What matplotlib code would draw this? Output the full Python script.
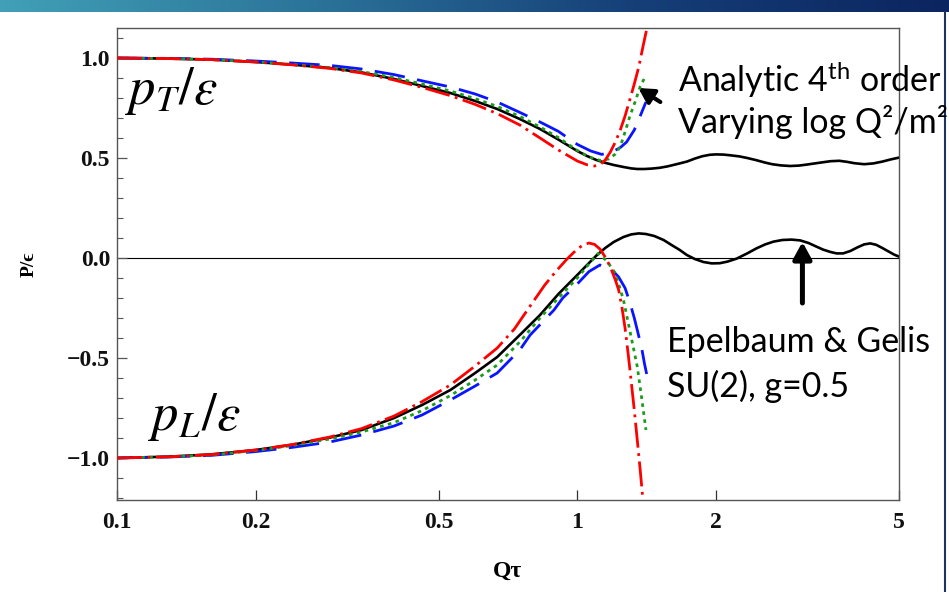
import numpy as np
import matplotlib
matplotlib.use("Agg")
import matplotlib.pyplot as plt
from matplotlib.lines import Line2D
from matplotlib.colors import LinearSegmentedColormap
from matplotlib.ticker import FixedLocator, NullLocator

# ---------------- data ----------------
# Epelbaum & Gelis, SU(2) g=0.5 (solid black)
eg_x_T = [0.10, 0.13, 0.16, 0.20, 0.24, 0.29, 0.34, 0.40, 0.46, 0.53, 0.60, 0.67,
          0.75, 0.83, 0.91, 1.00, 1.05, 1.10, 1.15, 1.20, 1.26, 1.31, 1.35, 1.40,
          1.45, 1.51, 1.57, 1.65, 1.73, 1.80, 1.87, 1.94, 2.00, 2.08, 2.16, 2.25,
          2.34, 2.45, 2.55, 2.65, 2.77, 2.90, 3.03, 3.15, 3.26, 3.40, 3.55, 3.71,
          3.85, 4.00, 4.20, 4.40, 4.60, 4.80, 5.00]
eg_pT = [1.000, 0.997, 0.992, 0.980, 0.967, 0.950, 0.928, 0.895, 0.860, 0.825, 0.785, 0.745,
         0.695, 0.645, 0.592, 0.535, 0.510, 0.490, 0.476, 0.465, 0.455, 0.448, 0.445, 0.445,
         0.447, 0.451, 0.458, 0.470, 0.482, 0.497, 0.509, 0.516, 0.518, 0.517, 0.513, 0.508,
         0.500, 0.489, 0.478, 0.469, 0.463, 0.460, 0.462, 0.467, 0.472, 0.478, 0.484, 0.486,
         0.481, 0.474, 0.469, 0.473, 0.482, 0.493, 0.502]

eg_x_L = [0.10, 0.13, 0.16, 0.20, 0.24, 0.29, 0.34, 0.40, 0.46, 0.53, 0.60, 0.67,
          0.75, 0.83, 0.91, 1.00, 1.05, 1.10, 1.15, 1.20, 1.26, 1.31, 1.36, 1.41,
          1.47, 1.54, 1.60, 1.67, 1.73, 1.80, 1.88, 1.96, 2.04, 2.12, 2.22, 2.34,
          2.45, 2.56, 2.67, 2.79, 2.92, 3.05, 3.18, 3.30, 3.42, 3.55, 3.66, 3.78,
          3.92, 4.06, 4.20, 4.33, 4.46, 4.60, 4.75, 4.88, 5.00]
eg_pL = [-1.000, -0.993, -0.982, -0.960, -0.934, -0.898, -0.860, -0.800, -0.735, -0.660, -0.575, -0.495,
         -0.385, -0.285, -0.180, -0.085, -0.035, 0.012, 0.050, 0.080, 0.105, 0.118, 0.123, 0.120,
         0.110, 0.090, 0.066, 0.040, 0.015, -0.005, -0.020, -0.027, -0.026, -0.018, -0.003, 0.023,
         0.048, 0.068, 0.082, 0.090, 0.092, 0.088, 0.075, 0.058, 0.042, 0.030, 0.023, 0.023,
         0.035, 0.053, 0.068, 0.073, 0.066, 0.050, 0.032, 0.017, 0.007]

# Analytic 4th order, varying log Q^2/m^2
red_x_T = [0.10, 0.13, 0.16, 0.20, 0.24, 0.29, 0.34, 0.40, 0.46, 0.53, 0.60, 0.67, 0.75, 0.83,
           0.91, 1.00, 1.05, 1.09, 1.12, 1.15, 1.18, 1.21, 1.24, 1.27, 1.30, 1.33, 1.36, 1.39, 1.42]
red_pT = [1.000, 0.997, 0.992, 0.980, 0.966, 0.948, 0.925, 0.890, 0.853, 0.812, 0.768, 0.722, 0.665, 0.600,
          0.540, 0.485, 0.466, 0.460, 0.466, 0.490, 0.530, 0.580, 0.640, 0.710, 0.790, 0.870, 0.955, 1.060, 1.160]
red_x_L = [0.10, 0.13, 0.16, 0.20, 0.24, 0.29, 0.34, 0.40, 0.46, 0.53, 0.60, 0.67, 0.73, 0.79, 0.85,
           0.90, 0.95, 1.00, 1.03, 1.06, 1.09, 1.12, 1.15, 1.18, 1.21, 1.23, 1.25, 1.27, 1.29, 1.31,
           1.33, 1.35, 1.37, 1.39]
red_pL = [-1.000, -0.994, -0.983, -0.960, -0.933, -0.895, -0.853, -0.790, -0.718, -0.635, -0.540, -0.450,
          -0.355, -0.240, -0.135, -0.065, -0.005, 0.045, 0.065, 0.075, 0.068, 0.045, 0.005, -0.045,
          -0.110, -0.160, -0.245, -0.350, -0.480, -0.620, -0.760, -0.910, -1.060, -1.220]

green_x_T = [0.10, 0.13, 0.16, 0.20, 0.24, 0.29, 0.34, 0.40, 0.46, 0.53, 0.60, 0.67, 0.75,
             0.83, 0.91, 1.00, 1.06, 1.12, 1.17, 1.21, 1.24, 1.27, 1.30, 1.335, 1.37, 1.40]
green_pT = [1.000, 0.997, 0.992, 0.981, 0.968, 0.952, 0.932, 0.902, 0.870, 0.835, 0.797, 0.758, 0.708,
            0.655, 0.602, 0.538, 0.505, 0.488, 0.495, 0.520, 0.557, 0.630, 0.707, 0.780, 0.857, 0.900]
green_x_L = [0.10, 0.13, 0.16, 0.20, 0.24, 0.29, 0.34, 0.40, 0.46, 0.53, 0.60, 0.67, 0.75,
             0.83, 0.91, 1.00, 1.06, 1.11, 1.16, 1.21, 1.26, 1.30, 1.35, 1.38, 1.41]
green_pL = [-1.000, -0.994, -0.985, -0.963, -0.938, -0.905, -0.870, -0.823, -0.763, -0.688, -0.610, -0.535, -0.420,
            -0.300, -0.200, -0.100, -0.030, 0.023, -0.015, -0.077, -0.210, -0.360, -0.543, -0.700, -0.860]

blue_x_T = [0.10, 0.13, 0.16, 0.20, 0.24, 0.29, 0.34, 0.40, 0.46, 0.53, 0.60, 0.67,
            0.75, 0.83, 0.91, 1.00, 1.07, 1.13, 1.19, 1.24, 1.28, 1.33, 1.37, 1.41]
blue_pT = [1.000, 0.998, 0.994, 0.985, 0.975, 0.963, 0.945, 0.917, 0.886, 0.855, 0.820, 0.780,
           0.728, 0.680, 0.633, 0.568, 0.535, 0.518, 0.530, 0.552, 0.580, 0.640, 0.710, 0.780]
blue_x_L = [0.10, 0.13, 0.16, 0.20, 0.24, 0.29, 0.34, 0.40, 0.46, 0.53, 0.60, 0.67, 0.75,
            0.79, 0.89, 0.93, 1.00, 1.06, 1.12, 1.19, 1.23, 1.27, 1.30, 1.33, 1.35, 1.38, 1.40, 1.415]
blue_pL = [-1.000, -0.995, -0.987, -0.968, -0.947, -0.920, -0.885, -0.840, -0.785, -0.710, -0.640, -0.575, -0.460,
           -0.385, -0.260, -0.200, -0.130, -0.068, -0.035, -0.060, -0.095, -0.150, -0.220, -0.300, -0.360, -0.450,
           -0.530, -0.580]

x_ticks = [0.1, 0.2, 0.5, 1, 2, 5]
x_ticklabels = ["0.1", "0.2", "0.5", "1", "2", "5"]
y_ticks = [-1.0, -0.5, 0.0, 0.5, 1.0]
y_ticklabels = ["\u22121.0", "\u22120.5", "0.0", "0.5", "1.0"]

# ---------------- style ----------------
plt.rcParams["mathtext.fontset"] = "custom"
plt.rcParams["mathtext.rm"] = "Lato"
plt.rcParams["mathtext.it"] = "Lato:italic"
plt.rcParams["mathtext.bf"] = "Lato:bold"

W, H = 949, 592
fig = plt.figure(figsize=(W / 100, H / 100), dpi=100)
fig.patch.set_facecolor("white")

# slide header strip and right border
bar = fig.add_axes([0, 1 - 12 / H, 1, 12 / H])
grad = np.linspace(0, 1, 512).reshape(1, -1)
cmap = LinearSegmentedColormap.from_list("hdr", ["#41a0b7", "#2b7399", "#163f78", "#0b2560"])
bar.imshow(grad, aspect="auto", cmap=cmap, extent=[0, 1, 0, 1])
bar.axis("off")
fig.add_artist(Line2D([944.5 / W] * 2, [0, 1 - 12 / H], transform=fig.transFigure,
                      color="#1a3363", lw=1.5))

ax = fig.add_axes([117 / W, 92 / H, 782 / W, 472 / H])
ax.set_xscale("log")
ax.set_xlim(0.1, 5)
ax.set_ylim(-1.21, 1.15)

ax.axhline(0, color="black", lw=0.8, zorder=1)

lw_c = 2.0
ax.plot(eg_x_T, eg_pT, color="black", lw=1.9, zorder=2, solid_joinstyle="round")
ax.plot(eg_x_L, eg_pL, color="black", lw=1.9, zorder=2, solid_joinstyle="round")

blue_kw = dict(color="#0a14ff", lw=lw_c, dashes=(11, 4.5), dash_capstyle="butt", zorder=3)
green_kw = dict(color="#1c9c1c", lw=lw_c, dashes=(1.3, 1.6), dash_capstyle="butt", zorder=4)
red_kw = dict(color="#ff0000", lw=lw_c, dashes=(9, 2, 1, 2), dash_capstyle="butt", zorder=5)
ax.plot(blue_x_T, blue_pT, **blue_kw)
ax.plot(blue_x_L, blue_pL, **blue_kw)
ax.plot(green_x_T, green_pT, **green_kw)
ax.plot(green_x_L, green_pL, **green_kw)
ax.plot(red_x_T, red_pT, **red_kw)
ax.plot(red_x_L, red_pL, **red_kw)

# axes frame and ticks
for s in ax.spines.values():
    s.set_color("#555555")
    s.set_linewidth(1.0)
ax.xaxis.set_major_locator(FixedLocator(x_ticks))
ax.xaxis.set_minor_locator(NullLocator())
ax.set_xticklabels(x_ticklabels)
ax.set_yticks(y_ticks)
ax.set_yticklabels(y_ticklabels)
ax.yaxis.set_minor_locator(FixedLocator(np.round(np.arange(-1.2, 1.11, 0.1), 2)))
ax.tick_params(axis="x", which="major", direction="in", length=7, width=0.9, color="#333333",
               pad=9, top=False)
ax.tick_params(axis="y", which="major", direction="in", length=7, width=0.9, color="#555555",
               pad=5, right=False)
ax.tick_params(axis="y", which="minor", direction="in", length=4, width=0.8, color="#555555",
               right=False)
tick_font = dict(family=["Liberation Serif", "DejaVu Serif"], weight="bold", size=17)
for lab in ax.get_xticklabels() + ax.get_yticklabels():
    lab.set_fontproperties(tick_font)
    lab.set_color("#111111")

ax.set_xlabel("Q\u03c4", fontfamily=["Liberation Serif", "DejaVu Serif"], fontweight="bold",
              fontsize=17, labelpad=20)
ax.set_ylabel("P/\u03f5", fontfamily=["Liberation Serif", "DejaVu Serif"], fontweight="bold",
              fontsize=14, labelpad=21)

# curve labels
ax.text(0.010, 0.840, r"$p_T/\varepsilon$", transform=ax.transAxes, fontsize=38,
        math_fontfamily="stix", va="baseline", ha="left")
ax.text(0.040, 0.148, r"$p_L/\varepsilon$", transform=ax.transAxes, fontsize=38,
        math_fontfamily="stix", va="baseline", ha="left")

# annotations
note_kw = dict(fontfamily="Lato", fontsize=24.5, color="black", va="baseline", ha="left")
fig.text(678 / W, 1 - 92 / H, r"Analytic 4$^{\mathrm{th}}$ order", **note_kw)
fig.text(678 / W, 1 - 133 / H, "Varying log Q\u00b2/m\u00b2", **note_kw)
fig.text(667 / W, 1 - 352 / H, "Epelbaum & Gelis", **note_kw)
fig.text(667 / W, 1 - 397 / H, "SU(2), g=0.5", **note_kw)

ax.annotate("", xy=(1.357, 0.85), xytext=(1.515, 0.78),
            arrowprops=dict(arrowstyle="-|>,head_length=0.9,head_width=0.5", lw=3.0,
                            color="black", shrinkA=0, shrinkB=0, mutation_scale=10))
ax.annotate("", xy=(3.084, 0.08), xytext=(3.084, -0.225),
            arrowprops=dict(arrowstyle="-|>,head_length=1.0,head_width=0.55", lw=3.6,
                            color="black", shrinkA=0, shrinkB=0, mutation_scale=10,
                            capstyle="round"))

fig.savefig("out.png", dpi=100, facecolor="white")
